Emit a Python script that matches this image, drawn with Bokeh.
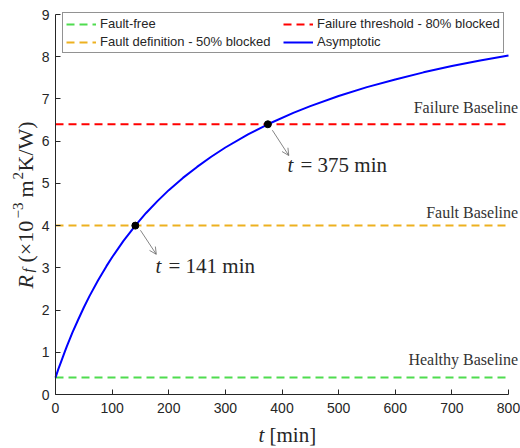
from bokeh.plotting import figure
from bokeh.models import Label, Arrow, OpenHead, Legend, LegendItem, FixedTicker, Range1d
from bokeh.embed import file_html
from bokeh.resources import INLINE
import math

# ---- data ----
t_curve = [0, 5, 10, 15, 20, 30, 40, 50, 60, 75, 90, 100, 120, 141, 160, 180, 200,
           225, 250, 275, 300, 340, 375, 420, 450, 500, 550, 600, 650, 700, 750, 800]
rf_curve = [0.40, 0.60, 0.78, 0.96, 1.14, 1.47, 1.77, 2.06, 2.33, 2.70, 3.04, 3.25,
            3.64, 4.00, 4.30, 4.58, 4.84, 5.13, 5.39, 5.63, 5.85, 6.16, 6.40, 6.67,
            6.83, 7.07, 7.28, 7.46, 7.63, 7.78, 7.91, 8.03]
t_span = [0, 800]
healthy = 0.4
fault = 4.0
failure = 6.4
cross_t = [141, 375]
cross_rf = [4.0, 6.4]
x_ticks = [0, 100, 200, 300, 400, 500, 600, 700, 800]
y_ticks = [0, 1, 2, 3, 4, 5, 6, 7, 8, 9]

SERIF = "Liberation Serif"
SANS = "Liberation Sans"
AX = "#262626"

W, H = 520, 448
# axes box in pixels: left 55, right 508, top 14, bottom 394
sx = (508 - 55) / 800.0
sy = (394 - 14) / 9.0
x0 = -55 / sx
x1 = 800 + (W - 508) / sx
y0 = -(H - 394) / sy
y1 = 9 + 14 / sy

p = figure(width=W, height=H, x_range=Range1d(x0, x1), y_range=Range1d(y0, y1),
           output_backend="svg", toolbar_location=None, min_border=0)
p.title.visible = False
p.outline_line_color = None
p.grid.visible = False
p.background_fill_color = "white"
p.border_fill_color = "white"

for ax in (p.xaxis[0], p.yaxis[0]):
    ax.fixed_location = 0
    ax.axis_line_color = AX
    ax.major_tick_line_color = AX
    ax.major_tick_in = 5
    ax.major_tick_out = 0
    ax.minor_tick_line_color = None
    ax.major_label_text_font = SANS
    ax.major_label_text_font_size = "14px"
    ax.major_label_text_color = AX
p.xaxis.bounds = (0, 800)
p.yaxis.bounds = (0, 9)
p.xaxis.ticker = FixedTicker(ticks=x_ticks)
p.yaxis.ticker = FixedTicker(ticks=y_ticks)
p.xaxis.major_label_standoff = 8
p.yaxis.major_label_standoff = 6

dash = "8 5"
r_green = p.line(t_span, [healthy, healthy], line_color="#4fdc4f", line_width=2, line_dash=dash)
r_orange = p.line(t_span, [fault, fault], line_color="#edb120", line_width=2, line_dash=dash)
r_red = p.line(t_span, [failure, failure], line_color="#ff0000", line_width=2, line_dash=dash)
r_blue = p.line(t_curve, rf_curve, line_color="#0000ff", line_width=2)
p.scatter(cross_t, cross_rf, size=7, color="black")

legend = Legend(items=[
    LegendItem(label="Fault-free", renderers=[r_green]),
    LegendItem(label="Fault definition - 50% blocked", renderers=[r_orange]),
    LegendItem(label="Failure threshold - 80% blocked", renderers=[r_red]),
    LegendItem(label="Asymptotic", renderers=[r_blue]),
], location=(62, 395))
legend.ncols = 2
legend.glyph_width = 30
legend.glyph_height = 14
legend.label_height = 14
legend.label_width = 180
legend.label_standoff = 4
legend.spacing = 3
legend.padding = 3
legend.margin = 0
legend.label_text_font = SANS
legend.label_text_font_size = "13px"
legend.label_text_color = AX
legend.border_line_color = AX
legend.border_line_width = 1
legend.background_fill_alpha = 1
p.add_layout(legend, "center")

# baseline labels
for txt, yv in [("Failure Baseline", 6.80), ("Fault Baseline", 4.31), ("Healthy Baseline", 0.83)]:
    p.add_layout(Label(x=817, y=yv, text=txt, text_align="right", text_baseline="middle",
                       text_font=SERIF, text_font_size="16px", text_color="#333333"))

# crossing annotations
ann = [((176.6, 199.6, 3.055), "= 141 min"), ((409.7, 432.7, 5.424), "= 375 min")]
for (tx, ex, yv), txt in ann:
    p.add_layout(Label(x=tx, y=yv, text="t", text_font=SERIF, text_font_style="italic",
                       text_font_size="21px", text_baseline="middle", text_color=AX))
    p.add_layout(Label(x=ex, y=yv, text=txt, text_font=SERIF,
                       text_font_size="21px", text_baseline="middle", text_color=AX))

arrow_head = dict(size=7, line_width=0.6, line_color="#333333")
p.add_layout(Arrow(end=OpenHead(**arrow_head), x_start=150, y_start=3.89, x_end=178, y_end=3.32,
                   line_width=0.6, line_color="#333333"))
p.add_layout(Arrow(end=OpenHead(**arrow_head), x_start=383, y_start=6.26, x_end=412, y_end=5.66,
                   line_width=0.6, line_color="#333333"))

# x axis label: t [min]
p.add_layout(Label(x=358.5, y=-0.95, text="t", text_font=SERIF, text_font_style="italic",
                   text_font_size="21px", text_baseline="middle", text_color=AX))
p.add_layout(Label(x=377.9, y=-0.95, text="[min]", text_font=SERIF,
                   text_font_size="21px", text_baseline="middle", text_color=AX))

# y axis label: R_f (x10^-3 m^2K/W), rotated, built from pieces
ang = math.pi / 2
base_x = -52.98     # main baseline
sup_x = -67.1       # raised baseline (superscripts)
sub_x = -47.7       # lowered baseline (subscript)
pieces = [
    ("R", base_x, 2.511, "22px", "italic"),
    ("f", sub_x, 2.889, "15px", "italic"),
    ("(×10", base_x, 3.126, "22px", "normal"),
    ("−3", sup_x, 4.168, "15px", "normal"),
    ("m", base_x, 4.666, "22px", "normal"),
    ("2", sup_x, 5.092, "15px", "normal"),
    ("K/W)", base_x, 5.282, "22px", "normal"),
]
for txt, xv, yv, fs, st in pieces:
    p.add_layout(Label(x=xv, y=yv, text=txt, angle=ang, text_font=SERIF, text_font_style=st,
                       text_font_size=fs, text_baseline="alphabetic", text_color=AX))

open("out.html", "w").write(file_html(p, INLINE))
